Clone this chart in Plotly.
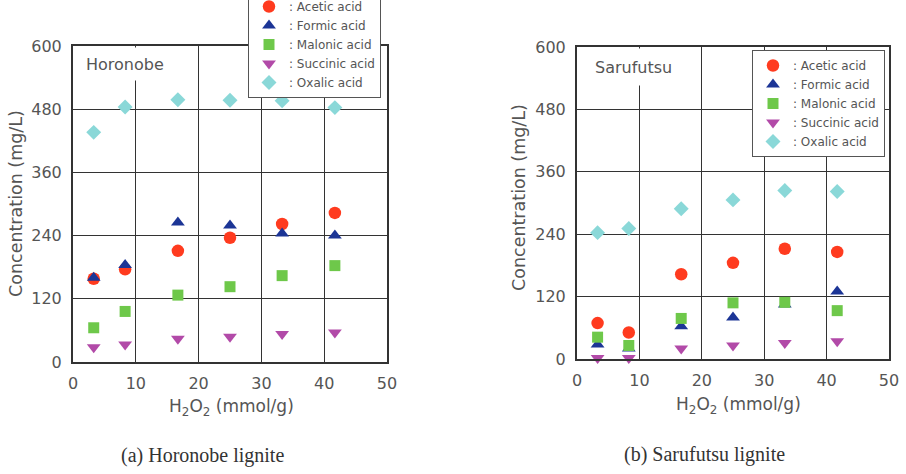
import plotly.graph_objects as go

# ---- data ----
h2o2 = [3.3, 8.3, 16.7, 25.0, 33.3, 41.7]
acid_names = [": Acetic acid", ": Formic acid", ": Malonic acid", ": Succinic acid", ": Oxalic acid"]

horonobe_acetic = [158, 176, 211, 236, 262, 283]
horonobe_formic = [160, 184, 265, 259, 244, 240]
horonobe_malonic = [65, 96, 127, 143, 164, 183]
horonobe_succinic = [28, 33, 44, 48, 53, 56]
horonobe_oxalic = [436, 484, 498, 497, 496, 483]

sarufutsu_acetic = [69, 51, 163, 185, 212, 206]
sarufutsu_formic = [28, 20, 63, 80, 105, 130]
sarufutsu_malonic = [42, 26, 78, 108, 109, 93]
sarufutsu_succinic = [2, 2, 20, 26, 31, 34]
sarufutsu_oxalic = [243, 251, 289, 306, 324, 322]

x_ticks = [0, 10, 20, 30, 40, 50]
y_ticks = [0, 120, 240, 360, 480, 600]

# ---- styles ----
colors = ["#ff3b1f", "#1c3596", "#6ec84a", "#b24aa8", "#8ad8d8"]
symbols = ["circle", "triangle-up", "square", "triangle-down", "diamond"]
sizes = [12.5, 12, 11, 12, 11.5]
TXT = "#555555"
FONT = "DejaVu Sans"

fig = go.Figure()

panels = [
    ([horonobe_acetic, horonobe_formic, horonobe_malonic, horonobe_succinic, horonobe_oxalic], "x", "y", "legend"),
    ([sarufutsu_acetic, sarufutsu_formic, sarufutsu_malonic, sarufutsu_succinic, sarufutsu_oxalic], "x2", "y2", "legend2"),
]
for series, xa, ya, lg in panels:
    for i, vals in enumerate(series):
        fig.add_trace(go.Scatter(
            x=h2o2, y=vals, mode="markers", name=acid_names[i],
            xaxis=xa, yaxis=ya, legend=lg, cliponaxis=False,
            marker=dict(symbol=symbols[i], size=sizes[i], color=colors[i], line=dict(width=0)),
        ))

W, H = 906, 474

def ax_common():
    return dict(
        showline=True, mirror=True, linewidth=2, linecolor="#333333",
        showgrid=True, gridcolor="#333333", gridwidth=1, zeroline=False,
        ticks="", ticklabelstandoff=6,
        tickfont=dict(family=FONT, size=16, color=TXT),
        fixedrange=True,
    )

fig.update_layout(
    width=W, height=H,
    margin=dict(l=0, r=0, t=0, b=0, autoexpand=False),
    paper_bgcolor="white", plot_bgcolor="white",
    xaxis=dict(domain=[73 / W, 387 / W], range=[0, 50], tickvals=x_ticks, anchor="y", **ax_common()),
    yaxis=dict(domain=[1 - 362 / H, 1 - 46 / H], range=[0, 600], tickvals=y_ticks, anchor="x", **ax_common()),
    xaxis2=dict(domain=[577 / W, 889 / W], range=[0, 50], tickvals=x_ticks, anchor="y2", **ax_common()),
    yaxis2=dict(domain=[1 - 359 / H, 1 - 47 / H], range=[0, 600], tickvals=y_ticks, anchor="x2", **ax_common()),
    legend=dict(x=381 / W, xanchor="right", y=1 + 9 / H, yanchor="top",
                bgcolor="white", bordercolor="#555555", borderwidth=1,
                font=dict(family=FONT, size=12, color=TXT), tracegroupgap=0),
    legend2=dict(x=885 / W, xanchor="right", y=1 - 50 / H, yanchor="top",
                 bgcolor="white", bordercolor="#555555", borderwidth=1,
                 font=dict(family=FONT, size=12, color=TXT), tracegroupgap=0),
    showlegend=True,
)

ann = []
# panel labels with white boxes
ann.append(dict(text="Horonobe", xref="paper", yref="paper", x=85 / W, xanchor="left",
                y=1 - 47 / H, yanchor="top", width=100, height=32, align="left", valign="middle",
                showarrow=False, bgcolor="white", borderpad=0,
                font=dict(family=FONT, size=16, color=TXT)))
ann.append(dict(text="Sarufutsu", xref="paper", yref="paper", x=594 / W, xanchor="left",
                y=1 - 48 / H, yanchor="top", width=100, height=36, align="left", valign="middle",
                showarrow=False, bgcolor="white", borderpad=0,
                font=dict(family=FONT, size=16, color=TXT)))
# axis titles
xt = "H<sub>2</sub>O<sub>2</sub> (mmol/g)"
yt = "Concentration (mg/L)"
ann.append(dict(text=xt, xref="paper", yref="paper", x=231 / W, y=1 - 407 / H,
                xanchor="center", yanchor="middle", showarrow=False,
                font=dict(family=FONT, size=17, color=TXT)))
ann.append(dict(text=xt, xref="paper", yref="paper", x=738 / W, y=1 - 405 / H,
                xanchor="center", yanchor="middle", showarrow=False,
                font=dict(family=FONT, size=17, color=TXT)))
ann.append(dict(text=yt, xref="paper", yref="paper", x=16 / W, y=1 - 204 / H, textangle=-90,
                xanchor="center", yanchor="middle", showarrow=False,
                font=dict(family=FONT, size=17.5, color=TXT)))
ann.append(dict(text=yt, xref="paper", yref="paper", x=519 / W, y=1 - 198 / H, textangle=-90,
                xanchor="center", yanchor="middle", showarrow=False,
                font=dict(family=FONT, size=17.5, color=TXT)))
# captions
ann.append(dict(text="(a) Horonobe lignite", xref="paper", yref="paper", x=202 / W, y=1 - 455 / H,
                xanchor="center", yanchor="middle", showarrow=False,
                font=dict(family="Liberation Serif", size=20, color="#333333")))
ann.append(dict(text="(b) Sarufutsu lignite", xref="paper", yref="paper", x=704 / W, y=1 - 454 / H,
                xanchor="center", yanchor="middle", showarrow=False,
                font=dict(family="Liberation Serif", size=20, color="#333333")))
fig.update_layout(annotations=ann)

fig.write_html("out.html")
